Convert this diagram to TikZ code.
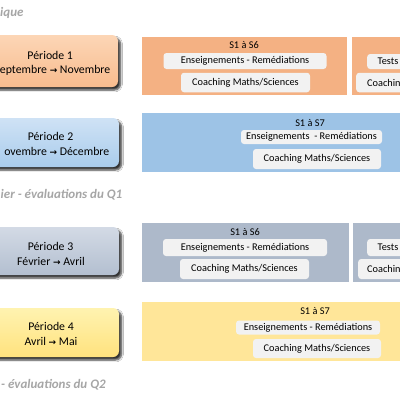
\documentclass[tikz,border=0pt]{standalone}
\usepackage{fontspec}
\setmainfont{Carlito}
\newfontfamily\flechefont{DejaVu Sans}
\usetikzlibrary{positioning, shadows.blur}

\definecolor{orangefond}{HTML}{F4B183}
\definecolor{bleufond}{HTML}{9DC3E6}
\definecolor{grisfond}{HTML}{ADB9CA}
\definecolor{jaunefond}{HTML}{FFE699}
\definecolor{itemgris}{HTML}{F2F2F2}
\definecolor{entetegris}{HTML}{A6A6A6}
\definecolor{orangehaut}{HTML}{FCD6B6}
\definecolor{orangebas}{HTML}{F8BC8E}
\definecolor{bleuhaut}{HTML}{CFE2F5}
\definecolor{bleubas}{HTML}{A9CCEC}
\definecolor{grishaut}{HTML}{D3DAE5}
\definecolor{grisbas}{HTML}{B3BFD0}
\definecolor{jaunehaut}{HTML}{FFF3B0}
\definecolor{jaunebas}{HTML}{FFE27E}

\newcommand{\fleche}{{\flechefont\bfseries\fontsize{9}{12}\selectfont →}}

\begin{document}
\begin{tikzpicture}[
    x=1pt, y=-1pt,
    every node/.style={inner sep=0pt},
    periode/.style={rectangle, rounded corners=6pt,
                    blur shadow={shadow xshift=2.5pt, shadow yshift=-3pt,
                                 shadow blur steps=6, shadow opacity=80}},
    ptexte/.style={font=\fontsize{11.8}{15}\selectfont},
    panel/.style={rectangle, anchor=north west},
    item/.style={rectangle, rounded corners=3pt, fill=itemgris,
                 font=\fontsize{10.3}{12}\selectfont},
    itemcoupe/.style={item, anchor=west, align=left, inner xsep=11pt},
    titre/.style={font=\fontsize{10.3}{12}\selectfont},
    entete/.style={anchor=west, text=entetegris,
                   font=\fontsize{13}{15}\selectfont\bfseries\itshape},
]
\useasboundingbox (0,0) rectangle (400,400);
\clip (0,0) rectangle (400,400);
\fill[white] (0,0) rectangle (400,400);

\node[entete] (haut) at (0,13) {ique};

% periode 1
\node[periode, top color=orangehaut, bottom color=orangebas,
      minimum width=128pt, minimum height=52pt] (per1) at (54,61) {};
\node[ptexte] (per1a) at (50.2,55.5) {Période 1};
\node[ptexte, anchor=east] (per1b) at (110.5,70) {eptembre \fleche{} Novembre};
\node[panel, fill=orangefond, minimum width=205pt, minimum height=58pt] (fond1) at (142,37) {};
\node[panel, fill=orangefond, minimum width=60pt, minimum height=58pt] (fond1b) at (352,37) {};
\node[titre] (s1) at (244,45) {S1 à S6};
\node[item, minimum width=163pt, minimum height=16pt] (ens1) at (245,61) {Enseignements - Remédiations};
\node[item, minimum width=129pt, minimum height=19.5pt] (coach1) at (245.5,82.5) {Coaching Maths/Sciences};
\node[itemcoupe, inner xsep=10.5pt, minimum height=15pt, text width=40pt] (tests1) at (367,61.5) {Tests};
\node[itemcoupe, minimum height=19.5pt, text width=45pt] (coach1b) at (356,82.5) {Coachin};

% periode 2
\node[periode, top color=bleuhaut, bottom color=bleubas,
      minimum width=129pt, minimum height=49pt] (per2) at (54.5,142.5) {};
\node[ptexte] (per2a) at (50.5,136) {Période 2};
\node[ptexte, anchor=east] (per2b) at (109.5,151) {ovembre \fleche{} Décembre};
\node[panel, fill=bleufond, minimum width=268pt, minimum height=59pt] (fond2) at (142,113) {};
\node[titre] (s2) at (310,123) {S1 à S7};
\node[item, minimum width=141pt, minimum height=14pt] (ens2) at (311.5,137) {Enseignements\ \ - Remédiations};
\node[item, minimum width=128pt, minimum height=20pt] (coach2) at (317,159) {Coaching Maths/Sciences};

\node[entete] (q1) at (0.5,195) {ier - évaluations du Q1};

% periode 3
\node[periode, top color=grishaut, bottom color=grisbas,
      minimum width=136pt, minimum height=48pt] (per3) at (51,251) {};
\node[ptexte] (per3a) at (50.5,246) {Période 3};
\node[ptexte] (per3b) at (51,261) {Février \fleche{} Avril};
\node[panel, fill=grisfond, minimum width=207pt, minimum height=59pt] (fond3) at (142,223) {};
\node[panel, fill=grisfond, minimum width=57pt, minimum height=59pt] (fond3b) at (353,223) {};
\node[titre] (s3) at (245,232) {S1 à S6};
\node[item, minimum width=164pt, minimum height=17pt] (ens3) at (245,247.5) {Enseignements - Remédiations};
\node[item, minimum width=129pt, minimum height=20pt] (coach3) at (244.5,269) {Coaching Maths/Sciences};
\node[itemcoupe, inner xsep=10.5pt, minimum height=17pt, text width=40pt] (tests3) at (367,247.5) {Tests};
\node[itemcoupe, inner xsep=9pt, minimum height=20pt, text width=45pt] (coach3b) at (358,269) {Coachin};

% periode 4
\node[periode, top color=jaunehaut, bottom color=jaunebas,
      minimum width=136pt, minimum height=49pt] (per4) at (51,332.5) {};
\node[ptexte] (per4a) at (51,326) {Période 4};
\node[ptexte] (per4b) at (51,341) {Avril \fleche{} Mai};
\node[panel, fill=jaunefond, minimum width=268pt, minimum height=59pt] (fond4) at (142,302) {};
\node[titre] (s4) at (315,311) {S1 à S7};
\node[item, minimum width=144pt, minimum height=14pt] (ens4) at (308,327.5) {Enseignements - Remédiations};
\node[item, minimum width=128pt, minimum height=19pt] (coach4) at (317,348.5) {Coaching Maths/Sciences};

\node[entete] (q2) at (1,385) {- évaluations du Q2};

\end{tikzpicture}
\end{document}
